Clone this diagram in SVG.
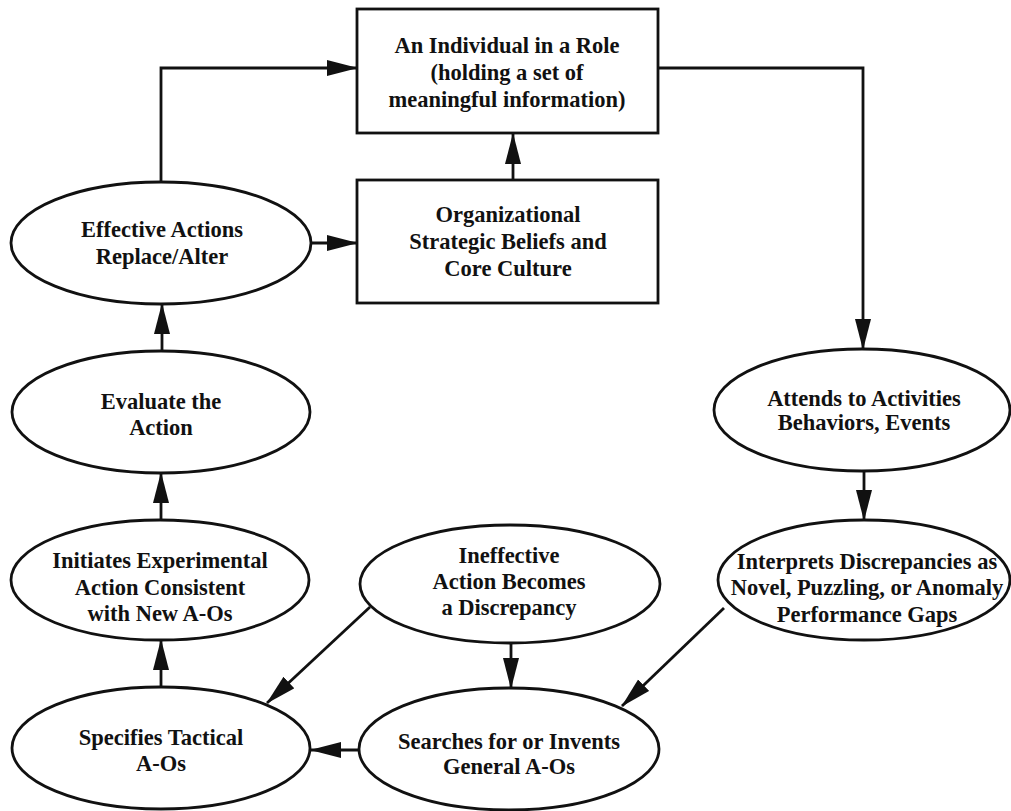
<svg xmlns="http://www.w3.org/2000/svg" width="1011" height="811" viewBox="0 0 1011 811">
<defs>
<style>
.n{fill:#fff;stroke:#111;stroke-width:2.8}
.t{font-family:"Liberation Serif","Times New Roman",serif;font-weight:bold;font-size:22.5px;fill:#111;text-anchor:middle}
.c{fill:none;stroke:#111;stroke-width:2.8;marker-end:url(#ah)}
</style>
<marker id="ah" markerUnits="userSpaceOnUse" markerWidth="32" markerHeight="17" refX="30" refY="8" orient="auto">
<path d="M0,0 L31,8 L0,16 Z" fill="#111"/>
</marker>
</defs>
<rect width="1011" height="811" fill="#fff"/>
<g id="connectors">
<path class="c" d="M161,182 V68 H357"/>
<path class="c" d="M311,243 H357"/>
<path class="c" d="M513,180 V134"/>
<path class="c" d="M658,68 H863 V349"/>
<path class="c" d="M864,471 V520"/>
<path class="c" d="M724,608 L622,706"/>
<path class="c" d="M511,643 V688"/>
<path class="c" d="M370,607 L267,703"/>
<path class="c" d="M359,750 H311"/>
<path class="c" d="M161,687 V640"/>
<path class="c" d="M161,520 V473"/>
<path class="c" d="M162,351 V304"/>
</g>
<g id="individual">
<rect class="n" x="357" y="9" width="301" height="124"/>
<text class="t" x="507" y="53">An Individual in a Role</text>
<text class="t" x="507" y="80">(holding a set of</text>
<text class="t" x="507" y="107">meaningful information)</text>
</g>
<g id="culture">
<rect class="n" x="357" y="180" width="301" height="123"/>
<text class="t" x="508" y="222">Organizational</text>
<text class="t" x="508" y="249">Strategic Beliefs and</text>
<text class="t" x="508" y="276">Core Culture</text>
</g>
<g id="effective">
<ellipse class="n" cx="161" cy="243" rx="150" ry="61"/>
<text class="t" x="162" y="237">Effective Actions</text>
<text class="t" x="162" y="264">Replace/Alter</text>
</g>
<g id="evaluate">
<ellipse class="n" cx="161" cy="412" rx="149" ry="61"/>
<text class="t" x="161" y="409">Evaluate the</text>
<text class="t" x="161" y="435">Action</text>
</g>
<g id="initiates">
<ellipse class="n" cx="160" cy="580" rx="149" ry="60"/>
<text class="t" x="160" y="568">Initiates Experimental</text>
<text class="t" x="160" y="595">Action Consistent</text>
<text class="t" x="160" y="621">with New A-Os</text>
</g>
<g id="specifies">
<ellipse class="n" cx="161" cy="748" rx="149" ry="61"/>
<text class="t" x="161" y="745">Specifies Tactical</text>
<text class="t" x="161" y="771">A-Os</text>
</g>
<g id="ineffective">
<ellipse class="n" cx="510" cy="584" rx="150" ry="59"/>
<text class="t" x="509" y="563">Ineffective</text>
<text class="t" x="509" y="589">Action Becomes</text>
<text class="t" x="509" y="615">a Discrepancy</text>
</g>
<g id="searches">
<ellipse class="n" cx="509" cy="749" rx="150" ry="61"/>
<text class="t" x="509" y="749">Searches for or Invents</text>
<text class="t" x="509" y="774">General A-Os</text>
</g>
<g id="attends">
<ellipse class="n" cx="862" cy="410" rx="148" ry="61"/>
<text class="t" x="864" y="406">Attends to Activities</text>
<text class="t" x="864" y="430">Behaviors, Events</text>
</g>
<g id="interprets">
<ellipse class="n" cx="864" cy="580" rx="146" ry="60"/>
<text class="t" x="867" y="569">Interprets Discrepancies as</text>
<text class="t" x="867" y="595">Novel, Puzzling, or Anomaly</text>
<text class="t" x="867" y="622">Performance Gaps</text>
</g>
</svg>
